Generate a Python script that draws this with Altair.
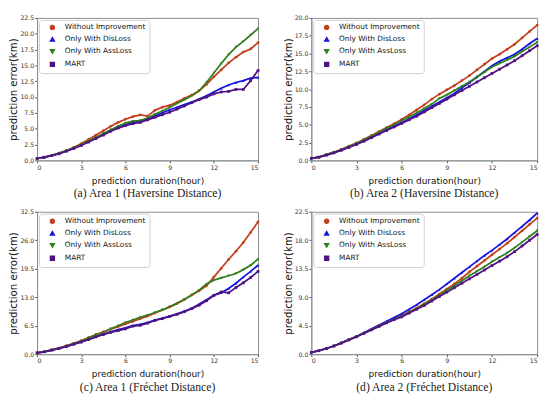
import altair as alt
import pandas as pd

hours = [i * 0.5 for i in range(31)]
names = ["Without Improvement", "Only With DisLoss", "Only With AssLoss", "MART"]
colors = ["#c2401c", "#1414e0", "#2f7f1f", "#501283"]
shapes = ["circle", "triangle-up", "triangle-down", "square"]

# Panel (a) Area 1, Haversine
a_wi = [0.3, 0.5, 0.8, 1.15, 1.55, 2.05, 2.65, 3.3, 4.0, 4.7, 5.4, 6.0, 6.5, 6.9, 7.2, 7.0, 7.9, 8.4, 8.7, 9.2, 9.8, 10.3, 11.0, 12.0, 13.2, 14.3, 15.4, 16.3, 17.1, 17.6, 18.6]
a_dl = [0.3, 0.5, 0.75, 1.1, 1.5, 1.95, 2.45, 3.0, 3.55, 4.1, 4.7, 5.2, 5.6, 6.0, 6.2, 6.6, 7.0, 7.5, 8.0, 8.4, 8.8, 9.2, 9.7, 10.2, 10.8, 11.4, 11.9, 12.3, 12.6, 13.0, 13.1]
a_al = [0.3, 0.5, 0.8, 1.15, 1.55, 2.0, 2.5, 3.05, 3.65, 4.25, 4.85, 5.4, 5.9, 6.2, 6.3, 6.7, 7.3, 7.8, 8.4, 9.0, 9.6, 10.2, 11.0, 12.3, 13.8, 15.3, 16.7, 17.9, 18.8, 19.8, 20.8]
a_mt = [0.3, 0.5, 0.75, 1.05, 1.45, 1.9, 2.35, 2.9, 3.45, 4.0, 4.6, 5.1, 5.5, 5.8, 6.0, 6.4, 6.8, 7.2, 7.6, 8.1, 8.6, 9.1, 9.6, 10.0, 10.5, 10.8, 10.9, 11.2, 11.2, 12.6, 14.2]

# Panel (b) Area 2, Haversine
b_wi = [0.3, 0.45, 0.8, 1.15, 1.55, 2.0, 2.45, 2.95, 3.5, 4.05, 4.6, 5.15, 5.75, 6.4, 7.1, 7.8, 8.6, 9.3, 9.9, 10.5, 11.2, 11.9, 12.7, 13.5, 14.3, 14.9, 15.6, 16.3, 17.2, 18.1, 19.0]
b_dl = [0.3, 0.45, 0.75, 1.1, 1.45, 1.85, 2.3, 2.8, 3.3, 3.8, 4.3, 4.8, 5.3, 5.8, 6.4, 7.0, 7.6, 8.2, 8.8, 9.4, 10.2, 10.9, 11.7, 12.5, 13.3, 13.9, 14.4, 14.9, 15.6, 16.4, 17.1]
b_al = [0.3, 0.45, 0.8, 1.15, 1.5, 1.95, 2.4, 2.9, 3.45, 3.95, 4.5, 5.05, 5.6, 6.1, 6.7, 7.3, 7.9, 8.7, 9.2, 9.8, 10.4, 11.0, 11.7, 12.4, 13.1, 13.6, 14.1, 14.6, 15.3, 15.9, 16.6]
b_mt = [0.3, 0.45, 0.75, 1.05, 1.45, 1.85, 2.25, 2.7, 3.2, 3.7, 4.2, 4.7, 5.2, 5.7, 6.2, 6.8, 7.4, 8.0, 8.6, 9.2, 9.8, 10.4, 11.0, 11.6, 12.2, 12.8, 13.4, 14.0, 14.7, 15.4, 16.1]

# Panel (c) Area 1, Frechet
c_wi = [0.3, 0.6, 1.0, 1.4, 1.9, 2.5, 3.1, 3.8, 4.5, 5.1, 5.7, 6.3, 6.9, 7.5, 8.1, 8.7, 9.4, 10.1, 10.8, 11.6, 12.5, 13.5, 14.5, 15.6, 17.6, 19.6, 21.6, 23.5, 25.5, 27.8, 30.2]
c_dl = [0.3, 0.55, 0.95, 1.35, 1.8, 2.3, 2.8, 3.4, 4.0, 4.6, 5.1, 5.6, 6.0, 6.5, 6.8, 7.2, 7.8, 8.2, 8.7, 9.2, 9.8, 10.5, 11.4, 12.4, 13.5, 14.0, 15.0, 16.2, 17.6, 18.9, 20.3]
c_al = [0.3, 0.6, 1.0, 1.4, 1.9, 2.5, 3.0, 3.7, 4.4, 5.0, 5.8, 6.5, 7.2, 7.8, 8.4, 8.9, 9.5, 10.1, 10.8, 11.6, 12.5, 13.5, 14.6, 16.0, 16.9, 17.4, 17.9, 18.4, 19.3, 20.3, 21.7]
c_mt = [0.3, 0.55, 0.95, 1.35, 1.8, 2.3, 2.8, 3.35, 3.95, 4.5, 5.0, 5.4, 5.8, 6.4, 6.6, 7.1, 7.7, 8.1, 8.6, 9.1, 9.7, 10.4, 11.2, 12.2, 13.4, 14.2, 14.0, 15.2, 16.3, 17.5, 18.9]

# Panel (d) Area 2, Frechet
d_wi = [0.3, 0.55, 0.9, 1.3, 1.8, 2.3, 2.8, 3.35, 3.9, 4.45, 5.0, 5.55, 6.1, 6.7, 7.3, 8.0, 8.7, 9.5, 10.3, 11.1, 12.0, 13.0, 13.9, 14.8, 15.7, 16.6, 17.5, 18.5, 19.5, 20.5, 21.5]
d_dl = [0.3, 0.55, 0.9, 1.3, 1.8, 2.3, 2.8, 3.4, 4.0, 4.6, 5.2, 5.8, 6.4, 7.1, 7.8, 8.6, 9.4, 10.2, 11.1, 12.0, 12.9, 13.8, 14.7, 15.6, 16.4, 17.3, 18.2, 19.2, 20.2, 21.2, 22.3]
d_al = [0.3, 0.55, 0.9, 1.3, 1.8, 2.3, 2.8, 3.35, 3.9, 4.45, 5.0, 5.5, 6.0, 6.6, 7.2, 7.9, 8.6, 9.3, 10.1, 10.8, 11.6, 12.4, 13.1, 13.8, 14.6, 15.3, 16.0, 16.8, 17.7, 18.6, 19.5]
d_mt = [0.3, 0.55, 0.9, 1.3, 1.75, 2.25, 2.75, 3.3, 3.85, 4.4, 4.95, 5.45, 5.9, 6.5, 7.1, 7.7, 8.4, 9.1, 9.8, 10.5, 11.2, 11.9, 12.6, 13.3, 14.0, 14.7, 15.4, 16.2, 17.1, 18.0, 18.9]

x_ticks = [0, 3, 6, 9, 12, 15]
FONT = "DejaVu Sans"


def panel(series, ymax, ystep, caption, width):
    rows = []
    for name, vals in zip(names, series):
        for t, v in zip(hours, vals):
            rows.append({"t": t, "v": v, "s": name})
    df = pd.DataFrame(rows)
    n = int(round(ymax / ystep))
    y_ticks = [round(i * ystep, 2) for i in range(n + 1)]
    legend = alt.Legend(
        title=None, orient="top-left", offset=2, padding=4,
        fillColor="white", strokeColor="#cfcfcf", cornerRadius=3,
        labelFont=FONT, labelFontSize=7.6, labelColor="#111111",
        symbolSize=16, rowPadding=2.4, symbolOffset=6, labelOffset=9,
        labelLimit=200,
    )
    base = alt.Chart(df).encode(
        x=alt.X("t:Q", scale=alt.Scale(domain=[0, 15], nice=False),
                axis=alt.Axis(values=x_ticks, title="prediction duration(hour)")),
        y=alt.Y("v:Q", scale=alt.Scale(domain=[0, ymax], nice=False),
                axis=alt.Axis(values=y_ticks, format=".1f", title="prediction error(km)")),
        color=alt.Color("s:N", scale=alt.Scale(domain=names, range=colors), legend=legend),
    )
    lines = base.mark_line(strokeWidth=1.8)
    pts = base.mark_point(filled=True, size=8, opacity=1).encode(
        shape=alt.Shape("s:N", scale=alt.Scale(domain=names, range=shapes), legend=legend)
    )
    return alt.layer(lines, pts).properties(
        width=width, height=147,
        title=alt.Title(caption, orient="bottom", font="Liberation Serif", fontSize=12,
                        fontWeight="normal", color="#222222", offset=3),
    )


pa = panel([a_wi, a_dl, a_al, a_mt], 22.5, 2.5, "(a) Area 1 (Haversine Distance)", 228)
pb = panel([b_wi, b_dl, b_al, b_mt], 20.0, 2.5, "(b) Area 2 (Haversine Distance)", 233)
pc = panel([c_wi, c_dl, c_al, c_mt], 32.5, 6.5, "(c) Area 1 (Fréchet Distance)", 228)
pd_ = panel([d_wi, d_dl, d_al, d_mt], 22.5, 4.5, "(d) Area 2 (Fréchet Distance)", 233)

row1 = alt.hconcat(pa, pb, spacing=20).resolve_scale(color="independent", shape="independent")
row2 = alt.hconcat(pc, pd_, spacing=20).resolve_scale(color="independent", shape="independent")

chart = alt.vconcat(row1, row2, spacing=8).resolve_scale(
    color="independent", shape="independent"
).properties(
    padding={"left": 0, "top": 0, "right": 0, "bottom": 0}
).configure_view(
    stroke="#8c8c8c", strokeWidth=1
).configure_axis(
    labelFont=FONT, labelFontSize=6.4, labelColor="#333333",
    titleFont=FONT, titleFontWeight="normal", titleColor="#111111",
    grid=False, domainColor="#8c8c8c", tickColor="#555555", tickSize=2.5,
    labelPadding=1.5, titlePadding=3,
).configure_axisX(titleFontSize=9.2, titlePadding=6).configure_axisY(
    titleFontSize=10.5, titlePadding=1, labelPadding=1
)

chart.save("out.html", embed_options={"renderer": "svg", "actions": False})
